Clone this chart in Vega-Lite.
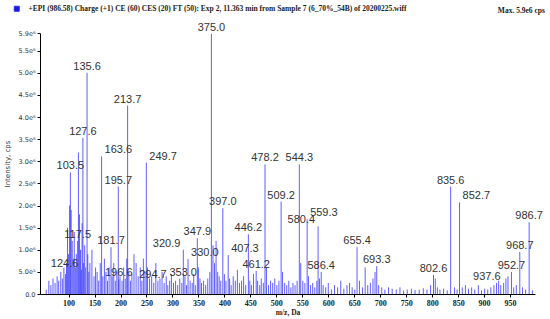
{
  "$schema": "https://vega.github.io/schema/vega-lite/v6.json",
  "autosize": {"type": "none"},
  "width": 495,
  "height": 261,
  "padding": {"left": 40, "top": 33, "right": 15, "bottom": 25},
  "background": "white",
  "title": {"text": "Max. 5.9e6 cps", "anchor": "end", "font": "Liberation Serif", "fontSize": 7.5, "fontWeight": "bold", "color": "#222", "offset": -9, "dx": 2},
  "config": {"view": {"stroke": null}},
  "data": {"values": [
    {"mz": 103.5, "i": 2750000, "label": "103.5"},
    {"mz": 117.5, "i": 1200000, "label": "117.5"},
    {"mz": 124.6, "i": 550000, "label": "124.6"},
    {"mz": 127.6, "i": 3530000, "label": "127.6"},
    {"mz": 135.6, "i": 5000000, "label": "135.6"},
    {"mz": 163.6, "i": 3110000, "label": "163.6"},
    {"mz": 181.7, "i": 1060000, "label": "181.7"},
    {"mz": 195.7, "i": 2430000, "label": "195.7"},
    {"mz": 196.6, "i": 330000, "label": "196.6"},
    {"mz": 213.7, "i": 4260000, "label": "213.7"},
    {"mz": 249.7, "i": 2970000, "label": "249.7"},
    {"mz": 294.7, "i": 300000, "label": "294.7"},
    {"mz": 320.9, "i": 1000000, "label": "320.9"},
    {"mz": 330.0, "i": 790000, "label": "330.0"},
    {"mz": 347.9, "i": 1260000, "label": "347.9"},
    {"mz": 353.0, "i": 350000, "label": "353.0"},
    {"mz": 375.0, "i": 5880000, "label": "375.0"},
    {"mz": 397.0, "i": 1940000, "label": "397.0"},
    {"mz": 407.3, "i": 880000, "label": "407.3"},
    {"mz": 446.2, "i": 1350000, "label": "446.2"},
    {"mz": 461.2, "i": 520000, "label": "461.2"},
    {"mz": 478.2, "i": 2930000, "label": "478.2"},
    {"mz": 509.2, "i": 2090000, "label": "509.2"},
    {"mz": 544.3, "i": 2930000, "label": "544.3"},
    {"mz": 559.3, "i": 1690000, "label": "559.3"},
    {"mz": 580.4, "i": 1530000, "label": "580.4"},
    {"mz": 586.4, "i": 500000, "label": "586.4"},
    {"mz": 655.4, "i": 1060000, "label": "655.4"},
    {"mz": 693.3, "i": 630000, "label": "693.3"},
    {"mz": 802.6, "i": 430000, "label": "802.6"},
    {"mz": 835.6, "i": 2430000, "label": "835.6"},
    {"mz": 852.7, "i": 2070000, "label": "852.7"},
    {"mz": 937.6, "i": 250000, "label": "937.6"},
    {"mz": 952.7, "i": 500000, "label": "952.7"},
    {"mz": 968.7, "i": 950000, "label": "968.7"},
    {"mz": 986.7, "i": 1620000, "label": "986.7"},
    {"mz": 57, "i": 100000}, {"mz": 62, "i": 300000}, {"mz": 66, "i": 200000}, {"mz": 70, "i": 350000},
    {"mz": 74, "i": 250000}, {"mz": 78, "i": 400000}, {"mz": 81, "i": 300000}, {"mz": 85, "i": 500000},
    {"mz": 88, "i": 350000}, {"mz": 91, "i": 600000}, {"mz": 94, "i": 450000}, {"mz": 96, "i": 700000},
    {"mz": 98, "i": 1500000}, {"mz": 100, "i": 900000}, {"mz": 102, "i": 2000000}, {"mz": 105, "i": 1900000},
    {"mz": 107, "i": 1200000}, {"mz": 109, "i": 800000}, {"mz": 111, "i": 1400000}, {"mz": 113, "i": 600000},
    {"mz": 115, "i": 900000}, {"mz": 119, "i": 3200000}, {"mz": 121, "i": 1800000}, {"mz": 123, "i": 1000000},
    {"mz": 126, "i": 1600000}, {"mz": 129, "i": 700000}, {"mz": 131, "i": 1100000}, {"mz": 133, "i": 600000},
    {"mz": 137, "i": 900000}, {"mz": 139, "i": 500000}, {"mz": 141, "i": 700000}, {"mz": 145, "i": 1000000},
    {"mz": 149, "i": 400000}, {"mz": 152, "i": 600000}, {"mz": 155, "i": 500000}, {"mz": 158, "i": 300000},
    {"mz": 161, "i": 700000}, {"mz": 166, "i": 400000}, {"mz": 169, "i": 800000}, {"mz": 172, "i": 500000},
    {"mz": 175, "i": 300000}, {"mz": 178, "i": 600000}, {"mz": 184, "i": 400000}, {"mz": 187, "i": 700000},
    {"mz": 190, "i": 300000}, {"mz": 193, "i": 500000}, {"mz": 199, "i": 400000}, {"mz": 203, "i": 300000},
    {"mz": 206, "i": 600000}, {"mz": 209, "i": 350000}, {"mz": 212, "i": 800000}, {"mz": 216, "i": 500000},
    {"mz": 219, "i": 300000}, {"mz": 222, "i": 450000}, {"mz": 226, "i": 900000}, {"mz": 230, "i": 700000},
    {"mz": 234, "i": 400000}, {"mz": 238, "i": 600000}, {"mz": 241, "i": 300000}, {"mz": 244, "i": 800000},
    {"mz": 247, "i": 500000}, {"mz": 252, "i": 600000}, {"mz": 256, "i": 350000}, {"mz": 260, "i": 400000},
    {"mz": 264, "i": 250000}, {"mz": 268, "i": 700000}, {"mz": 272, "i": 300000}, {"mz": 276, "i": 350000},
    {"mz": 280, "i": 500000}, {"mz": 284, "i": 250000}, {"mz": 288, "i": 400000}, {"mz": 291, "i": 200000},
    {"mz": 298, "i": 450000}, {"mz": 302, "i": 250000}, {"mz": 306, "i": 300000}, {"mz": 310, "i": 200000},
    {"mz": 314, "i": 350000}, {"mz": 318, "i": 250000}, {"mz": 324, "i": 400000}, {"mz": 327, "i": 200000},
    {"mz": 334, "i": 300000}, {"mz": 338, "i": 250000}, {"mz": 341, "i": 450000}, {"mz": 344, "i": 200000},
    {"mz": 350, "i": 600000}, {"mz": 356, "i": 250000}, {"mz": 360, "i": 300000}, {"mz": 364, "i": 200000},
    {"mz": 368, "i": 350000}, {"mz": 372, "i": 500000}, {"mz": 378, "i": 1100000}, {"mz": 381, "i": 700000},
    {"mz": 384, "i": 1200000}, {"mz": 387, "i": 500000}, {"mz": 390, "i": 400000}, {"mz": 393, "i": 300000},
    {"mz": 400, "i": 450000}, {"mz": 403, "i": 300000}, {"mz": 410, "i": 350000}, {"mz": 413, "i": 200000},
    {"mz": 417, "i": 400000}, {"mz": 421, "i": 300000}, {"mz": 425, "i": 550000}, {"mz": 429, "i": 250000},
    {"mz": 433, "i": 300000}, {"mz": 437, "i": 400000}, {"mz": 441, "i": 200000}, {"mz": 449, "i": 300000},
    {"mz": 452, "i": 200000}, {"mz": 456, "i": 450000}, {"mz": 464, "i": 300000}, {"mz": 468, "i": 200000},
    {"mz": 471, "i": 350000}, {"mz": 475, "i": 250000}, {"mz": 481, "i": 600000}, {"mz": 485, "i": 200000},
    {"mz": 489, "i": 300000}, {"mz": 493, "i": 250000}, {"mz": 497, "i": 350000}, {"mz": 501, "i": 200000},
    {"mz": 505, "i": 300000}, {"mz": 512, "i": 500000}, {"mz": 516, "i": 250000}, {"mz": 520, "i": 200000},
    {"mz": 524, "i": 300000}, {"mz": 528, "i": 150000}, {"mz": 532, "i": 250000}, {"mz": 536, "i": 200000},
    {"mz": 540, "i": 300000}, {"mz": 547, "i": 700000}, {"mz": 551, "i": 300000}, {"mz": 555, "i": 250000},
    {"mz": 562, "i": 400000}, {"mz": 566, "i": 200000}, {"mz": 570, "i": 250000}, {"mz": 574, "i": 150000},
    {"mz": 578, "i": 300000}, {"mz": 583, "i": 350000}, {"mz": 590, "i": 200000}, {"mz": 595, "i": 150000},
    {"mz": 600, "i": 250000}, {"mz": 606, "i": 100000}, {"mz": 612, "i": 200000}, {"mz": 618, "i": 150000},
    {"mz": 624, "i": 300000}, {"mz": 630, "i": 120000}, {"mz": 636, "i": 200000}, {"mz": 641, "i": 250000},
    {"mz": 646, "i": 150000}, {"mz": 651, "i": 100000}, {"mz": 660, "i": 300000}, {"mz": 666, "i": 150000},
    {"mz": 671, "i": 600000}, {"mz": 676, "i": 200000}, {"mz": 681, "i": 250000}, {"mz": 686, "i": 350000},
    {"mz": 690, "i": 500000}, {"mz": 697, "i": 200000}, {"mz": 703, "i": 150000}, {"mz": 709, "i": 100000},
    {"mz": 716, "i": 150000}, {"mz": 723, "i": 120000}, {"mz": 731, "i": 100000}, {"mz": 738, "i": 150000},
    {"mz": 745, "i": 80000}, {"mz": 752, "i": 100000}, {"mz": 760, "i": 120000}, {"mz": 767, "i": 90000},
    {"mz": 775, "i": 100000}, {"mz": 783, "i": 130000}, {"mz": 790, "i": 100000}, {"mz": 797, "i": 200000},
    {"mz": 806, "i": 350000}, {"mz": 810, "i": 150000}, {"mz": 815, "i": 100000}, {"mz": 822, "i": 120000},
    {"mz": 829, "i": 80000}, {"mz": 843, "i": 150000}, {"mz": 848, "i": 100000}, {"mz": 858, "i": 150000},
    {"mz": 864, "i": 200000}, {"mz": 870, "i": 120000}, {"mz": 876, "i": 150000}, {"mz": 882, "i": 100000},
    {"mz": 889, "i": 200000}, {"mz": 895, "i": 80000}, {"mz": 901, "i": 120000}, {"mz": 907, "i": 100000},
    {"mz": 913, "i": 150000}, {"mz": 919, "i": 200000}, {"mz": 924, "i": 250000}, {"mz": 928, "i": 300000},
    {"mz": 932, "i": 200000}, {"mz": 942, "i": 350000}, {"mz": 946, "i": 400000}, {"mz": 957, "i": 150000},
    {"mz": 962, "i": 200000}, {"mz": 974, "i": 150000}, {"mz": 980, "i": 100000}, {"mz": 993, "i": 80000}
  ]},
  "encoding": {
    "x": {"field": "mz", "type": "quantitative",
      "scale": {"domain": [45, 998], "nice": false, "zero": false},
      "axis": {"title": "m/z, Da", "values": [100,150,200,250,300,350,400,450,500,550,600,650,700,750,800,850,900,950],
        "grid": false, "domainColor": "#000", "tickColor": "#000", "tickSize": 3, "labelFont": "Liberation Serif", "labelFontWeight": "bold", "labelFontSize": 8, "labelColor": "#222", "labelPadding": 2,
        "titleFont": "Liberation Serif", "titleFontWeight": "bold", "titleFontSize": 7.5, "titleColor": "#222", "titlePadding": 1}},
    "y": {"field": "i", "type": "quantitative",
      "scale": {"domain": [0, 5900000], "nice": false},
      "axis": {"title": "Intensity, cps", "values": [0,500000,1000000,1500000,2000000,2500000,3000000,3500000,4000000,4500000,5000000,5500000,5900000],
        "labelExpr": "datum.value == 0 ? '0.0' : (datum.value >= 1000000 ? format(datum.value/1000000, '.1f') + 'e⁶' : format(datum.value/100000, '.1f') + 'e⁵')",
        "grid": false, "domainColor": "#000", "tickColor": "#000", "tickSize": 3, "labelFont": "DejaVu Sans", "labelFontSize": 6.5, "labelColor": "#333", "labelPadding": 2,
        "titleFont": "DejaVu Sans", "titleFontSize": 7, "titleFontWeight": "normal", "titleColor": "#333", "titlePadding": 8}}
  },
  "layer": [
    {"mark": {"type": "rule", "strokeWidth": 1, "opacity": 0.75},
     "encoding": {"y2": {"datum": 0},
       "color": {"datum": "+EPI (986.58) Charge (+1) CE (60) CES (20) FT (50): Exp 2, 11.363 min from Sample 7 (6_70%_54B) of 20200225.wiff",
         "type": "nominal", "scale": {"range": ["#2a2aff"]},
         "legend": {"title": null, "orient": "none", "legendX": -27, "legendY": -28, "symbolType": "square", "symbolSize": 25, "symbolFillColor": "#1a1acc", "symbolStrokeColor": "#1a1acc", "symbolStrokeWidth": 1, "symbolOpacity": 1,
           "labelFont": "Liberation Serif", "labelFontWeight": "bold", "labelFontSize": 7.5, "labelColor": "#222", "labelLimit": 600, "labelOffset": 8}}}},
    {"transform": [{"filter": "isValid(datum.label) && indexof(['163.6','249.7','852.7','559.3','330.0','407.3'], datum.label) < 0 && indexof(['580.4','320.9','353.0','124.6','937.6','294.7'], datum.label) < 0"}],
     "mark": {"type": "text", "font": "Liberation Sans", "fontSize": 11, "color": "#333", "baseline": "bottom", "dy": -1},
     "encoding": {"text": {"field": "label"}}},
    {"transform": [{"filter": "indexof(['163.6','249.7','852.7','559.3','330.0','407.3'], datum.label) >= 0"}],
     "mark": {"type": "text", "font": "Liberation Sans", "fontSize": 11, "color": "#333", "baseline": "bottom", "align": "left", "dx": 3, "dy": -1},
     "encoding": {"text": {"field": "label"}}},
    {"transform": [{"filter": "indexof(['580.4','320.9','353.0','124.6','937.6','294.7'], datum.label) >= 0"}],
     "mark": {"type": "text", "font": "Liberation Sans", "fontSize": 11, "color": "#333", "baseline": "bottom", "align": "right", "dx": -3, "dy": -1},
     "encoding": {"text": {"field": "label"}}}
  ]
}
